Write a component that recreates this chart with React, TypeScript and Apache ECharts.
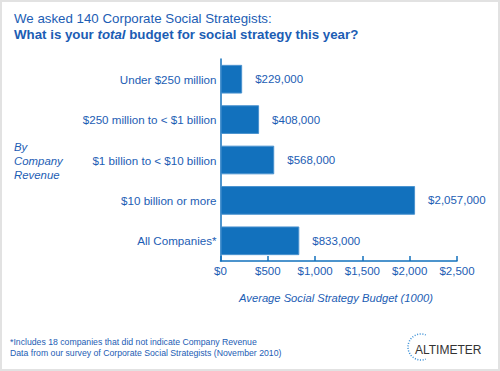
import React, { useEffect, useRef } from "react";
import * as echarts from "echarts";

const categories = [
  "Under $250 million",
  "$250 million to < $1 billion",
  "$1 billion to < $10 billion",
  "$10 billion or more",
  "All Companies*",
];
const budgets = [229, 408, 568, 2057, 833];
const xTicks = { min: 0, max: 2500, interval: 500 };

const BLUE_TEXT = "#1c5db4";
const BAR = "#1271bd";
const FONT = "'Liberation Sans', Arial, Helvetica, sans-serif";

export default function App() {
  const ref = useRef<HTMLDivElement>(null);
  useEffect(() => {
    if (!ref.current) return;
    const chart = echarts.init(ref.current, null, { renderer: "svg" });
    chart.setOption({
      animation: false,
      backgroundColor: "#ffffff",
      textStyle: { fontFamily: FONT },
      grid: { left: 220.5, right: 43, top: 59, bottom: 110, containLabel: false },
      xAxis: {
        type: "value",
        min: xTicks.min,
        max: xTicks.max,
        interval: xTicks.interval,
        axisLine: { show: true, lineStyle: { color: BAR, width: 1.5 } },
        axisTick: { show: true, inside: true, length: 5, lineStyle: { color: BAR, width: 1.5 } },
        splitLine: { show: false },
        axisLabel: {
          color: BLUE_TEXT,
          fontSize: 11.5,
          fontFamily: FONT,
          margin: 4,
          formatter: (v: number) => "$" + v.toLocaleString("en-US"),
        },
      },
      yAxis: {
        type: "category",
        data: categories,
        inverse: true,
        axisLine: { show: true, lineStyle: { color: BAR, width: 1.5 } },
        axisTick: { show: false },
        axisLabel: { color: BLUE_TEXT, fontSize: 11.6, fontFamily: FONT, margin: 4 },
      },
      series: [
        {
          type: "bar",
          data: budgets,
          barCategoryGap: "29%",
          itemStyle: { color: BAR, borderColor: "#4a92cf", borderWidth: 1 },
          label: {
            show: true,
            position: "right",
            distance: 13,
            color: BLUE_TEXT,
            fontSize: 11.5,
            fontFamily: FONT,
            formatter: (p: any) => "$" + (p.value * 1000).toLocaleString("en-US"),
          },
        },
      ],
      graphic: [
        {
          type: "rect",
          shape: { x: 1, y: 1, width: 498, height: 369 },
          style: { fill: "none", stroke: "#e2e2e2", lineWidth: 2 },
          silent: true,
        },
        {
          type: "text",
          x: 14,
          y: 18,
          style: {
            text: "We asked 140 Corporate Social Strategists:",
            fill: BLUE_TEXT,
            font: `13.3px ${FONT}`,
            verticalAlign: "middle",
          },
        },
        {
          type: "text",
          x: 14,
          y: 34,
          style: {
            text: "{b|What is your }{bi|total}{b| budget for social strategy this year?}",
            verticalAlign: "middle",
            rich: {
              b: { fill: BLUE_TEXT, fontWeight: "bold", fontSize: 13.3, fontFamily: FONT },
              bi: { fill: BLUE_TEXT, fontWeight: "bold", fontStyle: "italic", fontSize: 13.3, fontFamily: FONT },
            },
          },
        },
        {
          type: "text",
          x: 14,
          y: 161,
          style: {
            text: "By\nCompany\nRevenue",
            fill: BLUE_TEXT,
            font: `italic 11.4px ${FONT}`,
            lineHeight: 14,
            verticalAlign: "middle",
          },
        },
        {
          type: "text",
          x: 336,
          y: 298,
          style: {
            text: "Average Social Strategy Budget (1000)",
            fill: BLUE_TEXT,
            font: `italic 11.2px ${FONT}`,
            align: "center",
            verticalAlign: "middle",
          },
        },
        {
          type: "text",
          x: 10,
          y: 347,
          style: {
            text:
              "*Includes 18 companies that did not indicate Company Revenue\nData from our survey of Corporate Social Strategists (November 2010)",
            fill: BLUE_TEXT,
            font: `8.7px ${FONT}`,
            lineHeight: 11,
            verticalAlign: "middle",
          },
        },
        {
          type: "arc",
          shape: { cx: 421, cy: 347, r: 13, startAngle: -Math.PI * 0.38, endAngle: Math.PI * 0.38, clockwise: false },
          style: { stroke: "#3a8fd6", lineWidth: 1.5, lineDash: [1, 1.6], fill: "none" },
        },
        {
          type: "text",
          x: 415,
          y: 350,
          style: {
            text: "ALTIMETER",
            fill: "#333333",
            font: `12px ${FONT}`,
            verticalAlign: "middle",
          },
        },
      ],
    });
    return () => chart.dispose();
  }, []);
  return (
    <div
      ref={ref}
      style={{ position: "fixed", left: 0, top: 0, width: 500, height: 371 }}
    />
  );
}
